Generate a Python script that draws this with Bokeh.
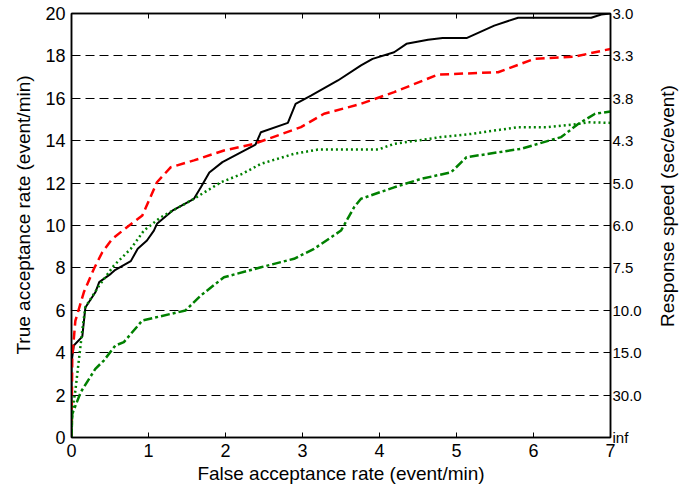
from bokeh.plotting import figure
from bokeh.layouts import row
from bokeh.models import LinearAxis, FixedTicker, Range1d, Div
from bokeh.embed import file_html
from bokeh.resources import INLINE

# ---- data ----
black_x = [0, 0, 0.03, 0.14, 0.18, 0.31, 0.36, 0.51, 0.57, 0.77, 0.86, 0.98, 1.07, 1.11, 1.31, 1.59, 1.68, 1.79, 1.96, 2.39, 2.46, 2.81, 2.91, 3.11, 3.46, 3.76, 3.91, 4.19, 4.35, 4.63, 4.82, 5.13, 5.49, 5.80, 6.75, 6.88, 7.0]
black_y = [0, 3.55, 4.34, 4.76, 6.13, 6.85, 7.33, 7.72, 7.91, 8.32, 8.9, 9.29, 9.76, 10.08, 10.7, 11.26, 11.8, 12.5, 12.99, 13.82, 14.4, 14.84, 15.74, 16.13, 16.84, 17.55, 17.86, 18.17, 18.57, 18.76, 18.84, 18.84, 19.43, 19.8, 19.8, 19.95, 20.0]

red_x = [0, 0.01, 0.05, 0.16, 0.29, 0.40, 0.53, 0.72, 0.92, 1.11, 1.29, 1.59, 1.98, 2.37, 2.98, 3.28, 3.76, 4.19, 4.76, 5.54, 6.01, 6.54, 7.0]
red_y = [0, 3.8, 5.5, 6.85, 7.95, 8.74, 9.37, 9.92, 10.47, 12.04, 12.75, 13.07, 13.54, 13.85, 14.64, 15.27, 15.74, 16.29, 17.12, 17.23, 17.86, 17.97, 18.33]

dotted_x = [0, 0.01, 0.05, 0.10, 0.14, 0.18, 0.36, 0.55, 0.77, 0.94, 1.16, 1.59, 1.94, 2.22, 2.46, 2.89, 3.2, 3.98, 4.19, 4.8, 5.19, 5.8, 6.19, 6.58, 6.71, 7.0]
dotted_y = [0, 1.27, 2.2, 3.79, 5.05, 6.15, 7.17, 8.11, 8.9, 9.76, 10.39, 11.26, 12.04, 12.44, 12.91, 13.38, 13.58, 13.58, 13.85, 14.17, 14.32, 14.64, 14.64, 14.79, 14.87, 14.84]

dashdot_x = [0, 0.01, 0.12, 0.31, 0.42, 0.57, 0.68, 0.92, 1.48, 1.68, 1.98, 2.46, 2.89, 3.15, 3.5, 3.67, 3.76, 4.19, 4.54, 4.93, 5.13, 5.84, 6.36, 6.58, 6.8, 7.0]
dashdot_y = [0, 1.11, 2.14, 3.24, 3.63, 4.34, 4.5, 5.52, 5.99, 6.7, 7.56, 8.03, 8.43, 8.9, 9.76, 10.86, 11.26, 11.8, 12.2, 12.51, 13.22, 13.62, 14.17, 14.79, 15.27, 15.38]

x_ticks = [0, 1, 2, 3, 4, 5, 6, 7]
y_ticks = [0, 2, 4, 6, 8, 10, 12, 14, 16, 18, 20]
right_labels = ["inf", "30.0", "15.0", "10.0", "7.5", "6.0", "5.0", "4.3", "3.8", "3.3", "3.0"]
x_title = "False acceptance rate (event/min)"
left_title = "True acceptance rate (event/min)"
right_title = "Response speed (sec/event)"

FONT = "Liberation Sans"
TICK_FS = "18px"
RIGHT_FS = "15px"
LABEL_FS = "19px"

H = 489
W0 = 36                       # left title strip
W1, BL1, BR1, BT1, BB1 = 609, 35, 35, 13, 52   # main figure
W2 = 33                       # right title strip

p = figure(width=W1, height=H, output_backend="svg", toolbar_location=None,
           x_range=Range1d(0, 7), y_range=Range1d(0, 20),
           min_border_left=BL1, min_border_right=BR1, min_border_top=BT1, min_border_bottom=BB1)
p.outline_line_color = "black"
p.outline_line_width = 1.5
p.background_fill_color = "white"
p.border_fill_color = "white"

p.xgrid.visible = False
p.ygrid.ticker = FixedTicker(ticks=y_ticks)
p.ygrid.grid_line_color = "black"
p.ygrid.grid_line_dash = "9 5"
p.ygrid.grid_line_width = 1

def style(ax, tick_in=5, fs=TICK_FS):
    ax.axis_line_color = "black"
    ax.axis_line_width = 1.5
    ax.major_tick_in = tick_in
    ax.major_tick_out = 0
    ax.minor_tick_line_color = None
    ax.major_label_text_font = FONT
    ax.major_label_text_font_size = fs
    ax.major_label_text_color = "black"
    ax.axis_label_text_font = FONT
    ax.axis_label_text_font_size = LABEL_FS
    ax.axis_label_text_font_style = "normal"
    ax.axis_label_text_color = "black"

xa = p.xaxis[0]
xa.ticker = FixedTicker(ticks=x_ticks)
xa.axis_label = x_title
style(xa)
xa.major_label_standoff = 6
xa.axis_label_standoff = 3

ya = p.yaxis[0]
ya.ticker = FixedTicker(ticks=y_ticks)
style(ya, tick_in=0)
ya.major_label_standoff = 6

top = LinearAxis(ticker=FixedTicker(ticks=x_ticks),
                 major_label_overrides={t: "" for t in x_ticks})
style(top)
top.major_label_standoff = 0
p.add_layout(top, "above")

right = LinearAxis(ticker=FixedTicker(ticks=y_ticks),
                   major_label_overrides={t: s for t, s in zip(y_ticks, right_labels)})
style(right, tick_in=0, fs=RIGHT_FS)
right.major_label_standoff = 2
p.add_layout(right, "right")

p.line(black_x, black_y, line_color="black", line_width=2)
p.line(red_x, red_y, line_color="#ff0000", line_width=2.5, line_dash="9 5")
p.line(dotted_x, dotted_y, line_color="#008000", line_width=2.5, line_dash="2 3")
p.line(dashdot_x, dashdot_y, line_color="#008000", line_width=2.5, line_dash="9 3 3 3")


def vertical_title(width, cx, cy, text):
    html = (
        f'<div style="position:relative;width:{width}px;height:{H}px;overflow:visible;">'
        f'<div style="position:absolute;left:{cx}px;top:{cy}px;'
        f'transform:translate(-50%,-50%) rotate(-90deg);white-space:nowrap;'
        f"font-family:'{FONT}';font-size:{LABEL_FS};line-height:1;color:black;\">"
        f'{text}</div></div>'
    )
    return Div(text=html, width=width, height=H, margin=0,
               styles={"overflow": "visible"})

d0 = vertical_title(W0, 22.5, 215, left_title)
d2 = vertical_title(W2, 21.5, 206, right_title)

layout = row(d0, p, d2)
open("out.html", "w").write(file_html(layout, INLINE))
